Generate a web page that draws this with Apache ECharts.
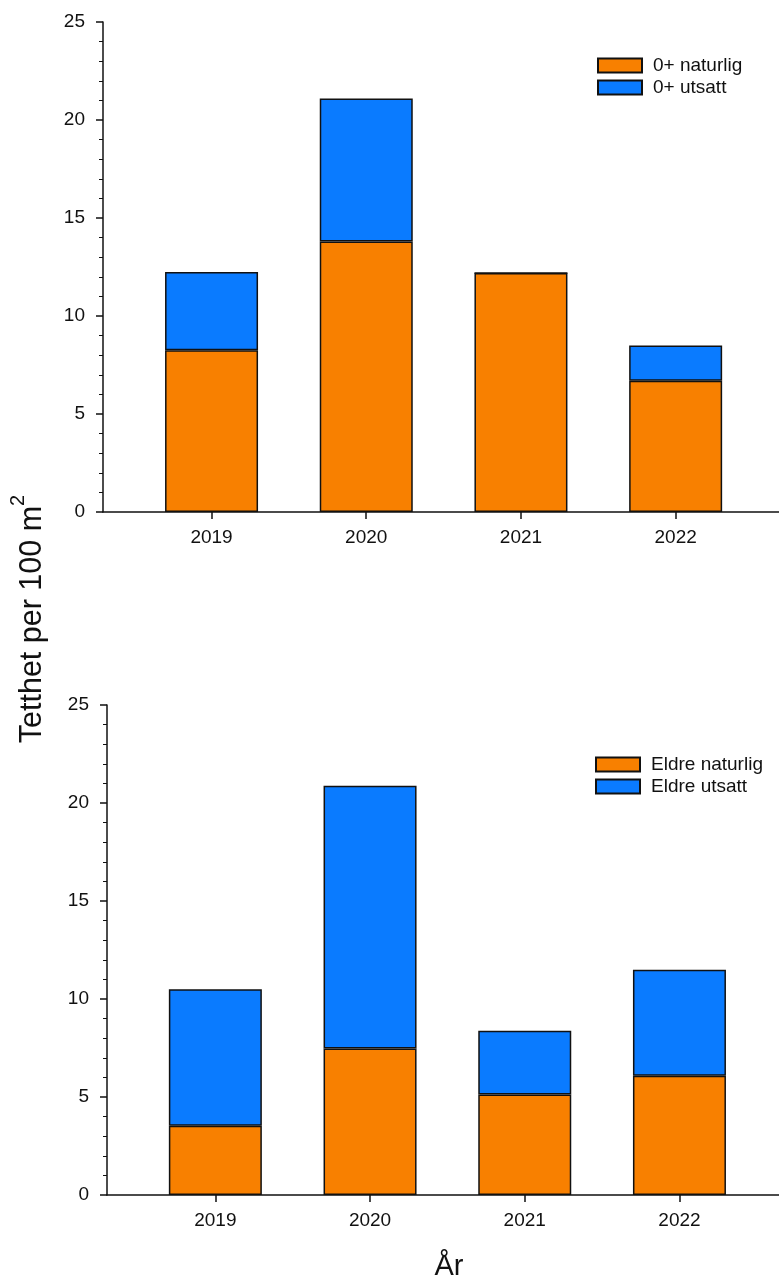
<!DOCTYPE html>
<html><head><meta charset="utf-8">
<script src="https://cdn.jsdelivr.net/npm/echarts@6/dist/echarts.min.js"></script>
<style>html,body{margin:0;padding:0;background:#fff}#c{width:779px;height:1284px}</style>
</head><body><div id="c"></div>
<script>
// ---- data ----
const years = ['2019', '2020', '2021', '2022'];
const naturlig0 = [8.25, 13.8, 12.2, 6.7];
const utsatt0 = [4.0, 7.3, 0, 1.8];
const naturligEldre = [3.53, 7.47, 5.13, 6.08];
const utsattEldre = [6.97, 13.41, 3.25, 5.41];
const namesTop = ['0+ naturlig', '0+ utsatt'];
const namesBottom = ['Eldre naturlig', 'Eldre utsatt'];
const yTitle = 'Tetthet per 100 m';
const ySup = '2';
const xTitle = 'År';

// ---- style ----
const FONT = '"Liberation Sans", Arial, sans-serif';
const ORANGE = '#F88000';
const BLUE = '#0A7BFF';
const INK = '#111';
const band = 154.7;
const grids = [
  // frame grids (axis lines, y ticks)
  { left: 103, top: 22, width: 676, height: 490 },
  // bar grids (category bands)
  { left: 134.2, top: 22, width: band * 4, height: 490 },
  { left: 107, top: 705, width: 672, height: 490 },
  { left: 138, top: 705, width: band * 4, height: 490 }
];

function frameX(gi) {
  return {
    type: 'value', gridIndex: gi, min: 0, max: 1,
    axisLine: { show: true, lineStyle: { color: INK, width: 1.5 } },
    axisTick: { show: false }, axisLabel: { show: false }, splitLine: { show: false }
  };
}
function frameY(gi) {
  return {
    type: 'value', gridIndex: gi, min: 0, max: 25, interval: 5,
    axisLine: { show: true, lineStyle: { color: INK, width: 1.5 } },
    axisTick: { show: true, inside: false, length: 7, lineStyle: { color: INK, width: 1.5 } },
    minorTick: { show: true, splitNumber: 5, length: 4, lineStyle: { color: INK, width: 1 } },
    axisLabel: { margin: 18, fontSize: 19, fontFamily: FONT, color: INK },
    splitLine: { show: false }
  };
}
function barX(gi) {
  return {
    type: 'category', gridIndex: gi, data: years, boundaryGap: true,
    axisLine: { show: false },
    axisTick: { show: true, alignWithLabel: true, length: 7, lineStyle: { color: INK, width: 1.5 } },
    axisLabel: { margin: 16, fontSize: 19, fontFamily: FONT, color: INK },
    splitLine: { show: false }
  };
}
function barY(gi) {
  return { type: 'value', gridIndex: gi, min: 0, max: 25, show: false, splitLine: { show: false } };
}
function bar(name, vals, gi, stack, color) {
  return {
    type: 'bar', name: name, xAxisIndex: gi, yAxisIndex: gi, stack: stack,
    barWidth: 93, data: vals,
    itemStyle: { color: color, borderColor: INK, borderWidth: 1.5 }
  };
}
function legend(names, left, top) {
  return {
    data: names, orient: 'vertical', left: left, top: top, padding: 0,
    itemWidth: 44, itemHeight: 14, itemGap: 3, icon: 'rect',
    textStyle: { fontSize: 19, fontFamily: FONT, color: INK, padding: [0, 0, 0, 6] }
  };
}

const chart = echarts.init(document.getElementById('c'), null, { renderer: 'canvas' });
chart.setOption({
  animation: false,
  backgroundColor: '#fff',
  grid: grids,
  xAxis: [frameX(0), barX(1), frameX(2), barX(3)],
  yAxis: [frameY(0), barY(1), frameY(2), barY(3)],
  legend: [legend(namesTop, 597, 56), legend(namesBottom, 595, 755)],
  series: [
    bar(namesTop[0], naturlig0, 1, 'top', ORANGE),
    bar(namesTop[1], utsatt0, 1, 'top', BLUE),
    bar(namesBottom[0], naturligEldre, 3, 'bot', ORANGE),
    bar(namesBottom[1], utsattEldre, 3, 'bot', BLUE)
  ],
  graphic: [
    { type: 'text', x: 33, y: 619, rotation: Math.PI / 2,
      style: { text: '{a|' + yTitle + '}{s|' + ySup + '}', align: 'center', verticalAlign: 'middle',
        rich: { a: { fontSize: 30.5, fontFamily: FONT, fill: INK, lineHeight: 50, verticalAlign: 'middle' },
                s: { fontSize: 20, fontFamily: FONT, fill: INK, verticalAlign: 'top' } } } },
    { type: 'text', x: 449, y: 1267,
      style: { text: xTitle, fontSize: 29, fontFamily: FONT, fill: INK, align: 'center', verticalAlign: 'middle' } }
  ]
});
</script></body></html>
